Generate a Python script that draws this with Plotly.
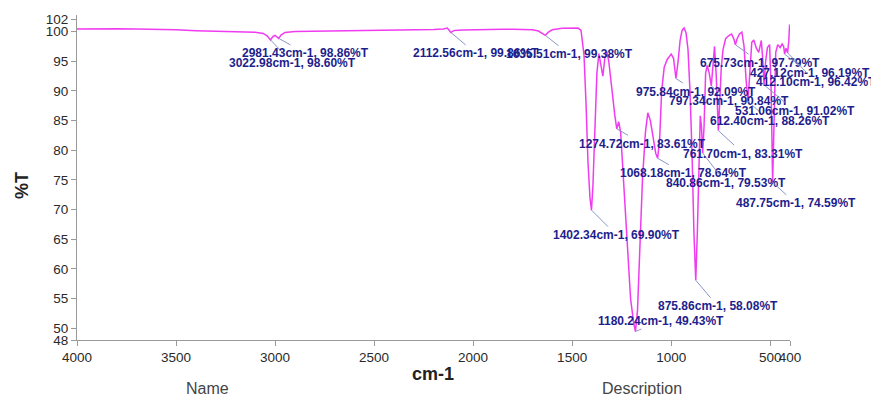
import plotly.graph_objects as go

# FTIR transmission spectrum (wavenumber in cm-1, transmittance in %T)
wavenumber = [
    4000, 3900, 3800, 3700, 3600, 3500, 3400, 3300, 3200, 3150, 3100, 3060, 3040,
    3022.98, 3010, 3000, 2990, 2981.43, 2970, 2950, 2900, 2800, 2700, 2600, 2500,
    2400, 2300, 2200, 2150, 2130, 2112.56, 2095, 2050, 2000, 1950, 1900, 1850, 1800,
    1750, 1700, 1670, 1650, 1635.51, 1620, 1600, 1550, 1500, 1470, 1455, 1440, 1430,
    1420, 1410, 1402.34, 1395, 1385, 1375, 1365, 1355, 1345, 1335, 1325, 1315, 1300,
    1285, 1274.72, 1265, 1255, 1240, 1225, 1205, 1190, 1180.24, 1170, 1160, 1145,
    1130, 1118, 1105, 1090, 1078, 1068.18, 1058, 1048, 1035, 1020, 1000, 988, 975.84,
    965, 955, 945, 935, 925, 915, 905, 895, 885, 875.86, 868, 860, 853, 847, 840.86,
    834, 826, 818, 808, 797.34, 789, 781, 773, 767, 761.70, 755, 747, 738, 725, 710,
    695, 683, 675.73, 667, 655, 643, 632, 622, 612.40, 603, 593, 583, 570, 558, 545,
    538, 531.06, 523, 514, 503, 495, 487.75, 480, 472, 462, 450, 440, 432, 427.12,
    420, 412.10, 406, 402, 400,
]
transmittance = [
    100.45, 100.5, 100.5, 100.45, 100.4, 100.3, 100.15, 100.05, 100.0, 99.95, 99.9, 99.7, 99.3,
    98.60, 99.2, 99.35, 99.1, 98.86, 99.4, 99.85, 100.0, 100.05, 100.1, 100.1, 100.1,
    100.15, 100.25, 100.35, 100.45, 100.6, 99.86, 100.2, 100.25, 100.3, 100.35, 100.45, 100.4, 100.4,
    100.35, 100.3, 100.1, 99.7, 99.38, 99.9, 100.3, 100.55, 100.6, 100.6, 100.2, 96.0, 88.0,
    78.0, 72.0, 69.90, 74.0, 85.0, 93.0, 96.3, 94.0, 92.5, 95.5, 96.6, 95.0, 90.0,
    86.0, 83.61, 84.8, 83.0, 75.0, 65.0, 55.0, 51.0, 49.43, 53.0, 62.0, 75.0,
    83.0, 86.3, 85.0, 82.0, 79.5, 78.64, 82.0, 90.0, 94.0, 95.3, 96.2, 95.5, 92.09,
    95.0, 98.5, 100.2, 100.6, 99.8, 97.0, 90.0, 80.0, 66.0, 58.08, 66.0, 80.0, 85.8, 84.0, 79.53,
    84.0, 93.0, 94.3, 93.0, 90.84, 94.0, 97.5, 93.0, 87.0, 83.31, 88.0, 94.0, 97.0, 98.8, 99.3,
    99.6, 98.7, 97.79, 98.8, 99.6, 99.9, 97.5, 92.0, 88.26, 93.0, 98.2, 98.6, 97.2, 96.5, 98.5,
    95.5, 91.02, 95.0, 97.3, 97.8, 90.0, 74.59, 88.0, 96.5, 97.8, 97.3, 97.9, 97.5, 96.19,
    97.2, 96.42, 98.5, 101.2, 100.8,
]

# Picked peaks
peak_wn = [3022.98, 2981.43, 2112.56, 1635.51, 1402.34, 1274.72, 1180.24, 1068.18,
           975.84, 875.86, 840.86, 797.34, 761.70, 675.73, 612.40, 531.06, 487.75,
           427.12, 412.10]
peak_t = [98.60, 98.86, 99.86, 99.38, 69.90, 83.61, 49.43, 78.64,
          92.09, 58.08, 79.53, 90.84, 83.31, 97.79, 88.26, 91.02, 74.59,
          96.19, 96.42]

x_ticks = [4000, 3500, 3000, 2500, 2000, 1500, 1000, 500, 400]
y_ticks = [48, 50, 55, 60, 65, 70, 75, 80, 85, 90, 95, 100, 102]

# label offsets from each peak, in pixels (text centre relative to the peak)
label_offsets = [(22, 23), (27, 15), (25, 21), (24, 19), (25, 25), (26, 15), (26, -11),
                 (26, 15), (20, 13), (22, 26), (23, 30), (18, 15), (25, 23), (25, 18),
                 (22, 20), (31, 26), (23, 21), (25, 19), (28, 29)]

W, H = 871, 396
M = dict(l=77, r=81, t=15, b=56)
plot_w = W - M["l"] - M["r"]
plot_h = H - M["t"] - M["b"]


def paper_xy(px, py):
    return (px - M["l"]) / plot_w, (H - M["b"] - py) / plot_h


fig = go.Figure()
fig.add_trace(go.Scatter(
    x=wavenumber, y=transmittance, mode="lines",
    line=dict(color="#f03cf0", width=1.5), hoverinfo="skip", showlegend=False,
))

annotations = []
for wn, t, (dx, dy) in zip(peak_wn, peak_t, label_offsets):
    annotations.append(dict(
        x=wn, y=t, xref="x", yref="y", ax=dx, ay=dy,
        text=f"{wn:.2f}cm-1, {t:.2f}%T", showarrow=True, arrowhead=0,
        arrowwidth=1, arrowcolor="#8a96c8",
        font=dict(family="Liberation Sans, Arial", size=12, color="#1e1e8c", weight="bold"),
    ))

titles = [
    ("%T", 22, 186, 18, "bold", -90, "#222222"),
    ("cm-1", 433, 374, 18, "bold", 0, "#222222"),
    ("Name", 207, 388, 16, "normal", 0, "#444444"),
    ("Description", 642, 388, 16, "normal", 0, "#444444"),
]
for text, px, py, size, weight, angle, color in titles:
    xp, yp = paper_xy(px, py)
    annotations.append(dict(
        x=xp, y=yp, xref="paper", yref="paper", text=text, showarrow=False,
        textangle=angle, xanchor="center", yanchor="middle",
        font=dict(family="Liberation Sans, Arial", size=size, color=color, weight=weight),
    ))

axis_common = dict(
    showgrid=False, zeroline=False, showline=True, linecolor="#9a9a9a", linewidth=1,
    ticks="outside", ticklen=5, tickcolor="#9a9a9a", tickangle=0,
    tickfont=dict(family="Liberation Sans, Arial", size=13.5, color="#2a2a2a"),
)

fig.update_layout(
    width=W, height=H, margin=M,
    paper_bgcolor="white", plot_bgcolor="white",
    xaxis=dict(range=[4000, 400], tickvals=x_ticks, ticktext=[str(v) for v in x_ticks],
               **axis_common),
    yaxis=dict(range=[48, 102.8], tickvals=y_ticks, ticktext=[str(v) for v in y_ticks],
               **axis_common),
    annotations=annotations,
    showlegend=False,
)

fig.write_html("out.html")
